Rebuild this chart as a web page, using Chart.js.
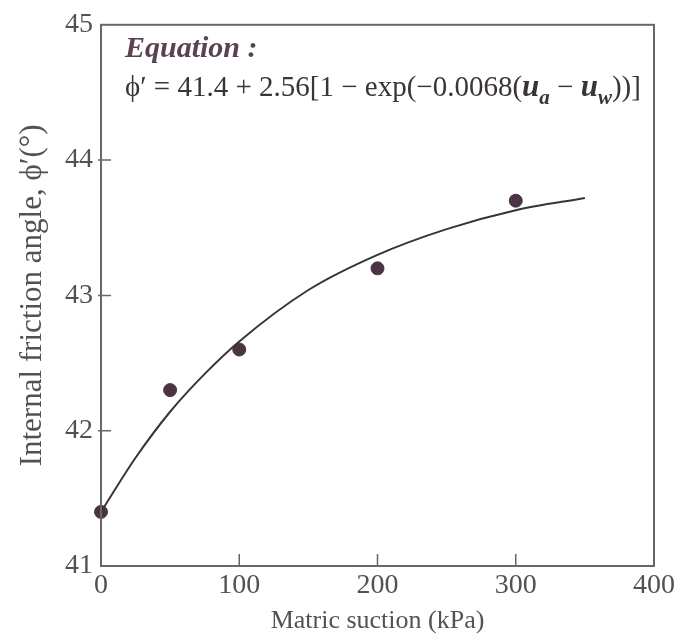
<!DOCTYPE html>
<html>
<head>
<meta charset="utf-8">
<script src="https://cdn.jsdelivr.net/npm/chart.js@4/dist/chart.umd.min.js"></script>
<style>
  html, body { margin: 0; padding: 0; background: #ffffff; }
  #wrap { width: 687px; height: 642px; }
</style>
</head>
<body>
<div id="wrap"><canvas id="chartFriction"></canvas></div>
<script>
// measured points (matric suction kPa, friction angle deg)
const suction = [0, 50, 100, 200, 300];
const frictionAngle = [41.4, 42.3, 42.6, 43.2, 43.7];

// fitted curve
const curveSuction = [0, 25, 50, 75, 100, 150, 200, 250, 300, 350];
const curveAngle = [41.40, 41.80, 42.14, 42.42, 42.66, 43.04, 43.30, 43.49, 43.63, 43.72];

const xTicks = [0, 100, 200, 300, 400];
const yTicks = [41, 42, 43, 44, 45];

const SERIF = '"Liberation Serif", "DejaVu Serif", serif';
const INK = '#555055';

// frame + inward ticks + equation text
const framePlugin = {
  id: 'frame',
  afterDraw(chart) {
    const { ctx, chartArea: a, scales } = chart;
    ctx.save();
    ctx.strokeStyle = '#6a6668';
    ctx.lineWidth = 2;
    ctx.strokeRect(a.left, a.top, a.right - a.left, a.bottom - a.top);
    ctx.lineWidth = 1.5;
    ctx.beginPath();
    xTicks.slice(1, -1).forEach(v => {
      const x = scales.x.getPixelForValue(v);
      ctx.moveTo(x, a.bottom);
      ctx.lineTo(x, a.bottom - 12);
    });
    yTicks.slice(1, -1).forEach(v => {
      const y = scales.y.getPixelForValue(v);
      ctx.moveTo(a.left - 3, y);
      ctx.lineTo(a.left + 10, y);
    });
    ctx.stroke();

    // equation text
    ctx.fillStyle = '#5a4252';
    ctx.textBaseline = 'alphabetic';
    ctx.font = 'italic bold 30px ' + SERIF;
    ctx.fillText('Equation :', a.left + 24, a.top + 32);

    let x = a.left + 24;
    const y = a.top + 71;
    ctx.fillStyle = '#3a3438';
    const put = (txt, font, dy) => {
      ctx.font = font;
      ctx.fillText(txt, x, y + (dy || 0));
      x += ctx.measureText(txt).width;
    };
    const reg = '29px ' + SERIF;
    const bi = 'italic bold 31px ' + SERIF;
    const sub = 'italic bold 21px ' + SERIF;
    put('\u03d5\u2032 = 41.4 + 2.56[1 \u2212 exp(\u22120.0068(', reg);
    put('u', bi);
    put('a', sub, 8);
    put(' \u2212 ', reg);
    put('u', bi);
    put('w', sub, 8);
    put('))]', reg);
    ctx.restore();
  }
};

const ctx = document.getElementById('chartFriction').getContext('2d');

new Chart(ctx, {
  type: 'scatter',
  data: {
    datasets: [
      {
        label: 'Fit',
        data: curveSuction.map((s, i) => ({ x: s, y: curveAngle[i] })),
        showLine: true,
        borderColor: '#3a3438',
        borderWidth: 2,
        pointRadius: 0,
        cubicInterpolationMode: 'monotone',
        fill: false
      },
      {
        label: 'Measured',
        data: suction.map((s, i) => ({ x: s, y: frictionAngle[i] })),
        backgroundColor: '#4a3444',
        borderColor: '#4a3444',
        pointRadius: 6.5,
        pointHoverRadius: 6.5,
        clip: false
      }
    ]
  },
  options: {
    responsive: true,
    maintainAspectRatio: false,
    animation: false,
    layout: { padding: { left: 0, right: 33, top: 19, bottom: 0 } },
    plugins: {
      legend: { display: false },
      tooltip: { enabled: false }
    },
    scales: {
      x: {
        type: 'linear',
        min: 0,
        max: 400,
        afterBuildTicks(scale) { scale.ticks = xTicks.map(v => ({ value: v })); },
        afterFit(scale) { scale.height = 76; },
        grid: { display: false, drawTicks: false },
        border: { display: false },
        ticks: { color: INK, padding: 3, font: { family: SERIF, size: 28 } },
        title: {
          display: true,
          text: 'Matric suction (kPa)',
          color: INK,
          padding: { top: 0, bottom: 5 },
          font: { family: SERIF, size: 26 }
        }
      },
      y: {
        type: 'linear',
        min: 41,
        max: 45,
        afterBuildTicks(scale) { scale.ticks = yTicks.map(v => ({ value: v })); },
        afterFit(scale) { scale.width = 101; },
        grid: { display: false, drawTicks: false },
        border: { display: false },
        ticks: { color: INK, padding: 8, font: { family: SERIF, size: 28 } },
        title: {
          display: true,
          text: 'Internal friction angle, \u03d5\u2032(\u00b0)',
          color: INK,
          padding: { top: 14, bottom: 0 },
          font: { family: SERIF, size: 31 }
        }
      }
    }
  },
  plugins: [framePlugin]
});
</script>
</body>
</html>
